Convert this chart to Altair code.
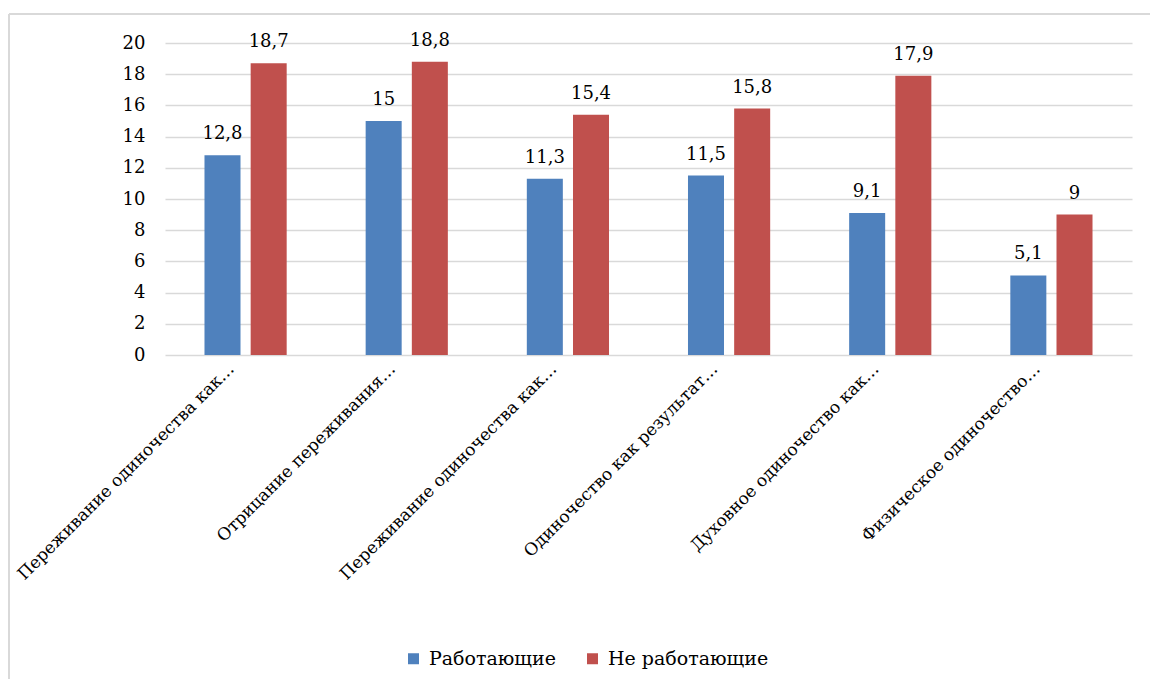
import altair as alt
import pandas as pd

labels = [
    "Переживание одиночества как…",
    "Отрицание переживания…",
    "Переживание одиночества как…",
    "Одиночество как результат…",
    "Духовное одиночество как…",
    "Физическое одиночество…",
]
series = ["Работающие", "Не работающие"]
working = [12.8, 15, 11.3, 11.5, 9.1, 5.1]
not_working = [18.7, 18.8, 15.4, 15.8, 17.9, 9]
colors = ["#4F81BD", "#C0504D"]

rows = []
for i in range(len(labels)):
    for s, vals in zip(series, [working, not_working]):
        v = vals[i]
        rows.append({"idx": i, "series": s, "value": v,
                     "label": (str(v)).replace(".", ",")})
df = pd.DataFrame(rows)

FONT = "DejaVu Serif"
label_expr = "[" + ",".join("'" + l + "'" for l in labels) + "][datum.value]"

x_enc = alt.X("idx:O", title=None,
              scale=alt.Scale(paddingInner=0.49, paddingOuter=0.245),
              axis=alt.Axis(labelExpr=label_expr, labelAngle=-45, labelAlign="right",
                            labelBaseline="middle", ticks=False, domain=False,
                            labelFont=FONT, labelFontSize=17, labelColor="#000000",
                            labelOffset=-14, labelPadding=11, labelLimit=0,
                            labelOverlap=False))
xo = alt.XOffset("series:N", sort=series,
                 scale=alt.Scale(paddingInner=0.22, paddingOuter=0))
y_enc = alt.Y("value:Q", title=None,
              scale=alt.Scale(domain=[0, 20], nice=False),
              axis=alt.Axis(values=list(range(0, 21, 2)), tickCount=11,
                            ticks=False, domain=False,
                            labelFont=FONT, labelFontSize=18, labelColor="#000000",
                            labelPadding=20, grid=True, gridColor="#D9D9D9",
                            gridWidth=1.5, labelOverlap=False))

base = alt.Chart(df)

bars = base.mark_bar().encode(
    x=x_enc, xOffset=xo, y=y_enc,
    color=alt.Color("series:N", sort=series,
                    scale=alt.Scale(domain=series, range=colors),
                    legend=alt.Legend(title=None, orient="none", direction="horizontal",
                                      legendX=239, legendY=606,
                                      symbolType="square", symbolSize=121,
                                      labelFont=FONT, labelFontSize=19,
                                      labelColor="#000000", labelLimit=0,
                                      symbolStrokeWidth=0, labelOffset=6,
                                      columnPadding=27)),
)

text = base.mark_text(fontSize=18, color="#000000", font=FONT,
                      baseline="alphabetic", dy=-16).encode(
    x=alt.X("idx:O"), xOffset=alt.XOffset("series:N", sort=series),
    y=alt.Y("value:Q"),
    text="label:N",
)

frame_left = alt.Chart(df).mark_rule(color="#D9D9D9", strokeWidth=2).encode(
    x=alt.value(-156), y=alt.value(-29), y2=alt.value(700))
frame_top = alt.Chart(df).mark_rule(color="#D9D9D9", strokeWidth=2).encode(
    x=alt.value(-156), x2=alt.value(1000), y=alt.value(-29))

chart = alt.layer(bars, text, frame_left, frame_top).properties(
    width=967, height=312,
    background="#FFFFFF",
    autosize=alt.AutoSizeParams(type="none"),
    padding={"left": 165, "top": 43, "right": 18, "bottom": 324},
).configure_view(
    stroke=None
)

chart.save("out.html", embed_options={"renderer": "svg", "actions": False})
